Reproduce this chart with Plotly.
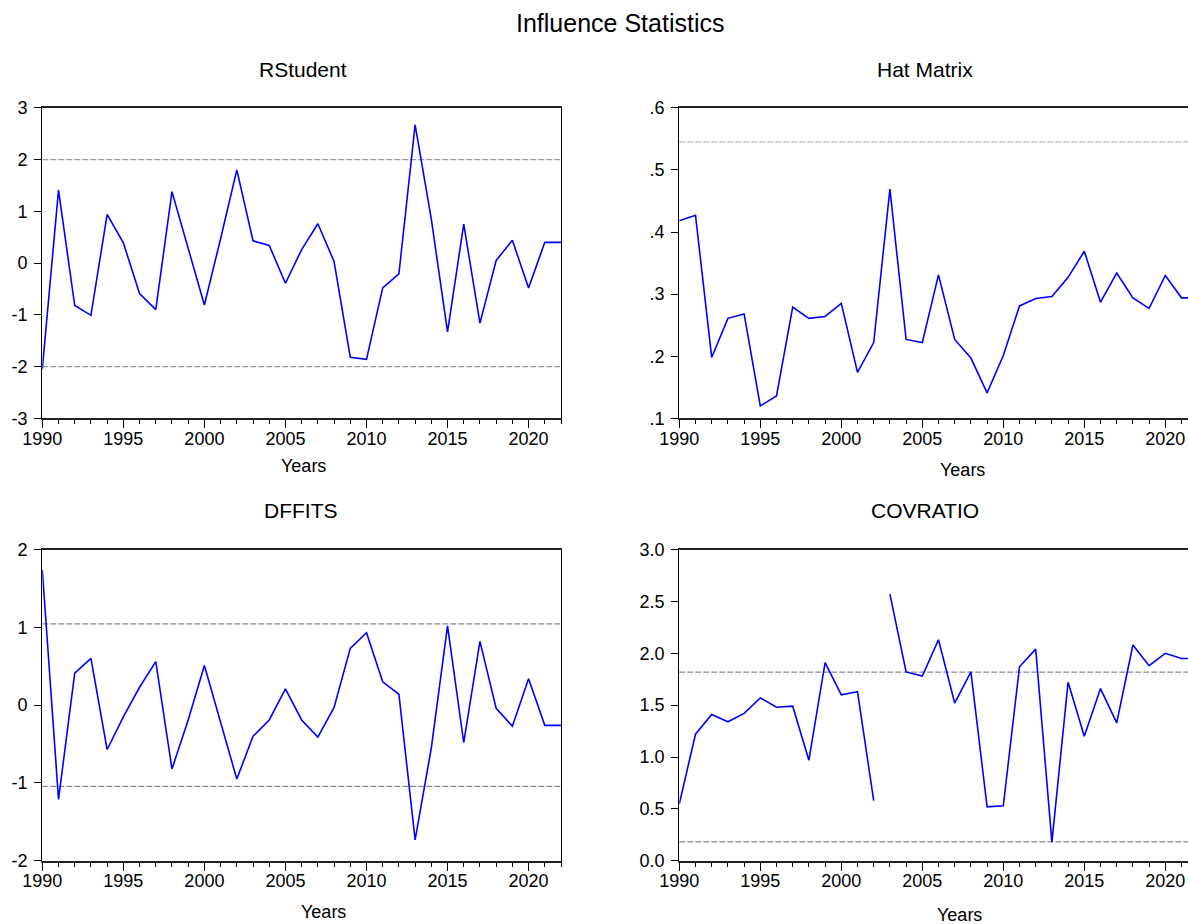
import plotly.graph_objects as go

years = list(range(1990, 2023))

rstudent = [-2.05, 1.41, -0.82, -1.01, 0.94, 0.39, -0.59, -0.90, 1.38, 0.30,
            -0.81, 0.47, 1.80, 0.43, 0.34, -0.39, 0.26, 0.76, 0.03, -1.82,
            -1.86, -0.48, -0.21, 2.67, 0.85, -1.33, 0.75, -1.16, 0.05, 0.44,
            -0.48, 0.40, 0.40]

hat_matrix = [0.418, 0.427, 0.198, 0.261, 0.268, 0.120, 0.136, 0.279, 0.261, 0.264,
              0.285, 0.174, 0.222, 0.469, 0.227, 0.222, 0.331, 0.227, 0.197, 0.141,
              0.201, 0.281, 0.293, 0.296, 0.327, 0.369, 0.287, 0.334, 0.294, 0.277,
              0.330, 0.294, 0.294]

dffits = [1.74, -1.21, 0.41, 0.60, -0.57, -0.15, 0.23, 0.56, -0.82, -0.19,
          0.51, -0.22, -0.95, -0.40, -0.19, 0.21, -0.19, -0.41, -0.03, 0.73,
          0.93, 0.30, 0.14, -1.73, -0.55, 1.02, -0.48, 0.82, -0.04, -0.27,
          0.34, -0.26, -0.26]

covratio = [0.55, 1.22, 1.41, 1.34, 1.42, 1.57, 1.48, 1.49, 0.97, 1.91,
            1.60, 1.63, 0.58, 2.57, 1.82, 1.78, 2.13, 1.52, 1.82, 0.52,
            0.53, 1.87, 2.04, 0.18, 1.72, 1.20, 1.66, 1.33, 2.08, 1.88,
            2.00, 1.95, 1.95]
covratio_break_year = 2003  # line is not drawn between 2002 and 2003

rstudent_refs = [2.0, -2.0]
hat_refs = [0.545]
dffits_refs = [1.044, -1.044]
covratio_refs = [1.818, 0.182]

rstudent_ticks = [-3, -2, -1, 0, 1, 2, 3]
rstudent_ticktext = ["-3", "-2", "-1", "0", "1", "2", "3"]
hat_ticks = [0.1, 0.2, 0.3, 0.4, 0.5, 0.6]
hat_ticktext = [".1", ".2", ".3", ".4", ".5", ".6"]
dffits_ticks = [-2, -1, 0, 1, 2]
dffits_ticktext = ["-2", "-1", "0", "1", "2"]
cov_ticks = [0.0, 0.5, 1.0, 1.5, 2.0, 2.5, 3.0]
cov_ticktext = ["0.0", "0.5", "1.0", "1.5", "2.0", "2.5", "3.0"]

x_ticks = [1990, 1995, 2000, 2005, 2010, 2015, 2020]
x_ticktext = ["1990", "1995", "2000", "2005", "2010", "2015", "2020"]

titles = ["RStudent", "Hat Matrix", "DFFITS", "COVRATIO"]
main_title = "Influence Statistics"
x_title = "Years"

FONT = "Liberation Sans, Arial, sans-serif"
W, H = 1188, 924
LINE = "#0000ff"

fig = go.Figure()

# panel geometry (paper fractions)
dom_x_left = [42.3 / W, 561 / W]
dom_x_right = [679.3 / W, 1.0]
dom_y_top = [1 - 418.3 / H, 1 - 107.8 / H]
dom_y_bot = [1 - 860.8 / H, 1 - 549.5 / H]

panels = [
    dict(xa="x", ya="y", dx=dom_x_left, dy=dom_y_top, yr=[-3, 3], tv=rstudent_ticks, tt=rstudent_ticktext,
         xr=[1990, 2022], refs=rstudent_refs, refcol="#9a9a9a", mirror_y=True),
    dict(xa="x2", ya="y2", dx=dom_x_right, dy=dom_y_top, yr=[0.1, 0.6], tv=hat_ticks, tt=hat_ticktext,
         xr=[1990, 1990 + (W - 679.3) / 16.2], refs=hat_refs, refcol="#b8b8b8", mirror_y=False),
    dict(xa="x3", ya="y3", dx=dom_x_left, dy=dom_y_bot, yr=[-2, 2], tv=dffits_ticks, tt=dffits_ticktext,
         xr=[1990, 2022], refs=dffits_refs, refcol="#8a8a8a", mirror_y=True),
    dict(xa="x4", ya="y4", dx=dom_x_right, dy=dom_y_bot, yr=[0, 3], tv=cov_ticks, tt=cov_ticktext,
         xr=[1990, 1990 + (W - 679.3) / 16.2], refs=covratio_refs, refcol="#8a8a8a", mirror_y=False),
]

# traces
fig.add_trace(go.Scatter(x=years, y=rstudent, mode="lines", line=dict(color=LINE, width=1.6),
                         xaxis="x", yaxis="y", showlegend=False))
fig.add_trace(go.Scatter(x=years, y=hat_matrix, mode="lines", line=dict(color=LINE, width=1.6),
                         xaxis="x2", yaxis="y2", showlegend=False))
fig.add_trace(go.Scatter(x=years, y=dffits, mode="lines", line=dict(color=LINE, width=1.6),
                         xaxis="x3", yaxis="y3", showlegend=False))
seg1_x = [y for y in years if y < covratio_break_year]
seg1_y = [v for y, v in zip(years, covratio) if y < covratio_break_year]
seg2_x = [y for y in years if y >= covratio_break_year]
seg2_y = [v for y, v in zip(years, covratio) if y >= covratio_break_year]
fig.add_trace(go.Scatter(x=seg1_x, y=seg1_y, mode="lines", line=dict(color=LINE, width=1.6),
                         xaxis="x4", yaxis="y4", showlegend=False))
fig.add_trace(go.Scatter(x=seg2_x, y=seg2_y, mode="lines", line=dict(color=LINE, width=1.6),
                         xaxis="x4", yaxis="y4", showlegend=False))

layout = dict(
    width=W, height=H,
    autosize=False,
    margin=dict(l=0, r=0, t=0, b=0, pad=0, autoexpand=False),
    paper_bgcolor="white", plot_bgcolor="white",
    font=dict(family=FONT, size=18, color="black"),
    showlegend=False,
)

shapes = []
for i, p in enumerate(panels):
    suf = "" if i == 0 else str(i + 1)
    layout["xaxis" + suf] = dict(
        domain=p["dx"], range=p["xr"], anchor=p["ya"], automargin=False,
        tickvals=x_ticks, ticktext=x_ticktext, ticklabelstandoff=-5,
        ticks="outside", ticklen=8, tickwidth=1.2, tickcolor="black",
        minor=dict(dtick=1, tick0=1990, ticks="outside", ticklen=4, tickwidth=1.2, tickcolor="black", showgrid=False),
        showline=True, linecolor="#222222", linewidth=1.6, mirror=True,
        showgrid=False, zeroline=False, fixedrange=True,
        tickfont=dict(family=FONT, size=18, color="black"),
    )
    layout["yaxis" + suf] = dict(
        domain=p["dy"], range=p["yr"], anchor=p["xa"], automargin=False,
        tickvals=p["tv"], ticktext=p["tt"], ticklabelstandoff=3,
        ticks="outside", ticklen=7, tickwidth=1.2, tickcolor="black",
        showline=True, linecolor="black", linewidth=1.3, mirror=p["mirror_y"],
        showgrid=False, zeroline=False, fixedrange=True,
        tickfont=dict(family=FONT, size=18, color="black"),
    )
    for r in p["refs"]:
        shapes.append(dict(type="line", xref=p["xa"] + " domain", yref=p["ya"],
                           x0=0, x1=1, y0=r, y1=r,
                           line=dict(color=p["refcol"], width=1.3, dash="6px,2px"), layer="below"))

layout["shapes"] = shapes

annotations = [
    dict(text=main_title, x=620 / W, y=1 - 23 / H, xref="paper", yref="paper",
         showarrow=False, font=dict(family=FONT, size=25, color="black"), xanchor="center", yanchor="middle"),
]
title_pos = [(303, 69), (925, 69), (301, 510), (925, 511)]
for t, (tx, ty) in zip(titles, title_pos):
    annotations.append(dict(text=t, x=tx / W, y=1 - ty / H, xref="paper", yref="paper", showarrow=False,
                            font=dict(family=FONT, size=21, color="black"), xanchor="center", yanchor="middle"))
years_pos = [(303, 466), (962, 470), (323, 912), (959, 915)]
for (tx, ty) in years_pos:
    annotations.append(dict(text=x_title, x=tx / W, y=1 - ty / H, xref="paper", yref="paper", showarrow=False,
                            font=dict(family=FONT, size=18, color="black"), xanchor="center", yanchor="middle"))
layout["annotations"] = annotations

fig.update_layout(**layout)
fig.write_html(
    "out.html",
    config={"responsive": False, "displayModeBar": False},
    post_script="document.body.style.margin='0px';document.body.style.overflow='hidden';",
)
